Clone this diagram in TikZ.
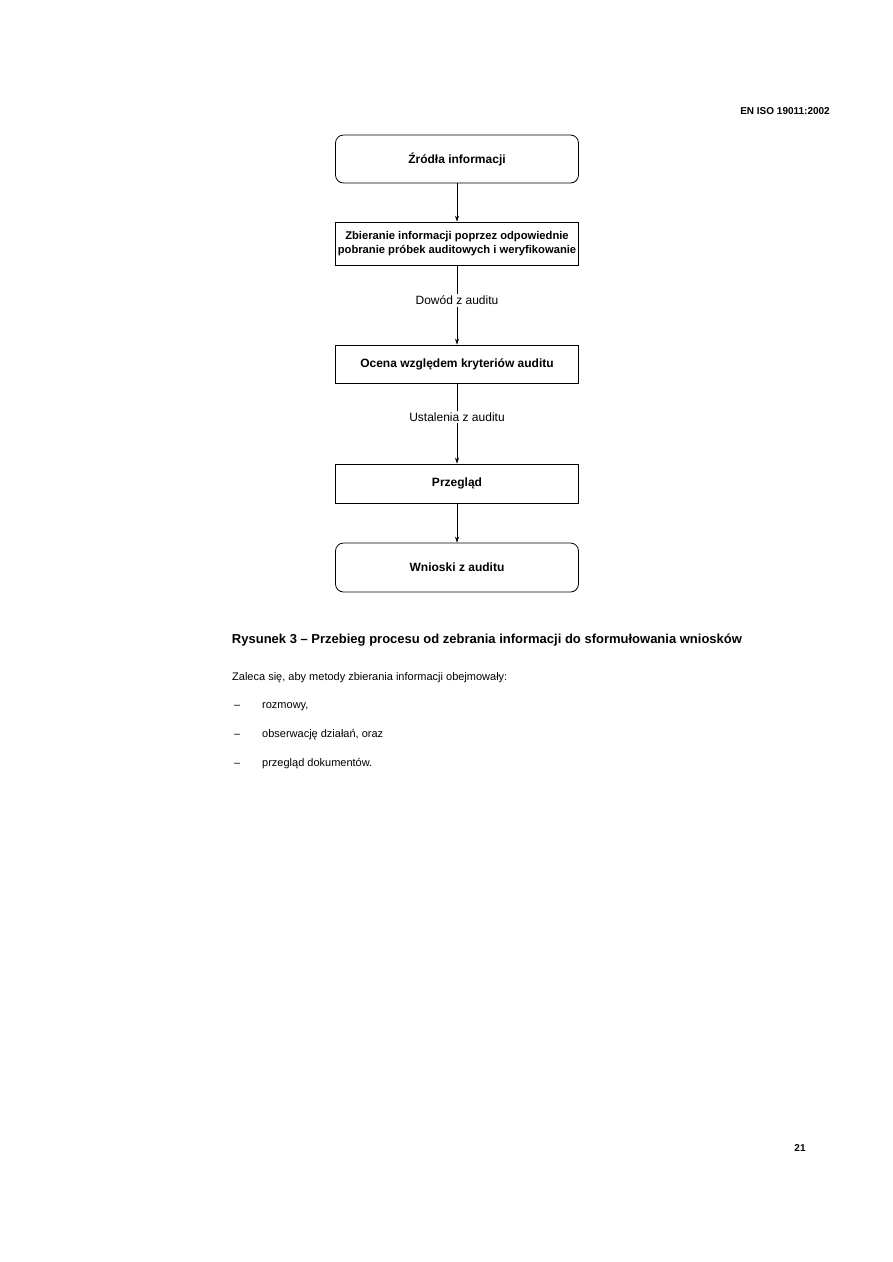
\documentclass[tikz,border=0pt]{standalone}
\usepackage{fontspec}
\setmainfont{Liberation Sans}
\usetikzlibrary{arrows.meta}
\begin{document}
\begin{tikzpicture}[x=1pt,y=-1pt,
  box/.style={draw, line width=0.8pt, minimum width=243pt, align=center, inner sep=1pt, font=\fontsize{12}{14}\selectfont\bfseries},
  rbox/.style={box, rounded corners=8pt},
  lbl/.style={fill=white, inner sep=2pt, font=\fontsize{12}{14}\selectfont},
  arr/.style={draw, line width=0.6pt, -{Stealth[length=6pt,width=4pt]}},
  txt/.style={inner sep=0pt, font=\fontsize{11}{13}\selectfont}]
\useasboundingbox[fill=white] (0,0) rectangle (893,1262);

\node[txt, anchor=base east, font=\fontsize{10}{12}\selectfont\bfseries] (hdr) at (830,114) {EN ISO 19011:2002};

\node[rbox, minimum height=48pt] (b1) at (457,159) {Źródła informacji};
\node[box, minimum height=43pt, inner sep=0pt, font=\fontsize{11.2}{13.5}\selectfont\bfseries] (b2) at (457,243.5) {Zbieranie informacji poprzez odpowiednie\\pobranie próbek auditowych i weryfikowanie};
\node[box, minimum height=38pt] (b3) at (457,364) {Ocena względem kryteriów auditu};
\node[box, minimum height=39pt] (b4) at (457,483.5) {Przegląd};
\node[rbox, minimum height=49pt] (b5) at (457,567.5) {Wnioski z auditu};

\draw[arr] (b1) -- (b2);
\draw[arr] (b2) -- node[lbl, pos=0.44] (l1) {Dowód z auditu} (b3);
\draw[arr] (b3) -- node[lbl, pos=0.42] (l2) {Ustalenia z auditu} (b4);
\draw[arr] (b4) -- (b5);

\node[txt, font=\fontsize{13}{15}\selectfont\bfseries] (cap) at (487,640) {Rysunek 3 – Przebieg procesu od zebrania informacji do sformułowania wniosków};

\node[txt, anchor=base west] (t0) at (232,680) {Zaleca się, aby metody zbierania informacji obejmowały:};
\node[txt, anchor=base west] (d1) at (234,708) {–};
\node[txt, anchor=base west] (t1) at (262,708) {rozmowy,};
\node[txt, anchor=base west] (d2) at (234,737) {–};
\node[txt, anchor=base west] (t2) at (262,737) {obserwację działań, oraz};
\node[txt, anchor=base west] (d3) at (234,766) {–};
\node[txt, anchor=base west] (t3) at (262,766) {przegląd dokumentów.};

\node[txt, anchor=base, font=\fontsize{10}{12}\selectfont\bfseries] (pg) at (800,1151) {21};
\end{tikzpicture}
\end{document}
